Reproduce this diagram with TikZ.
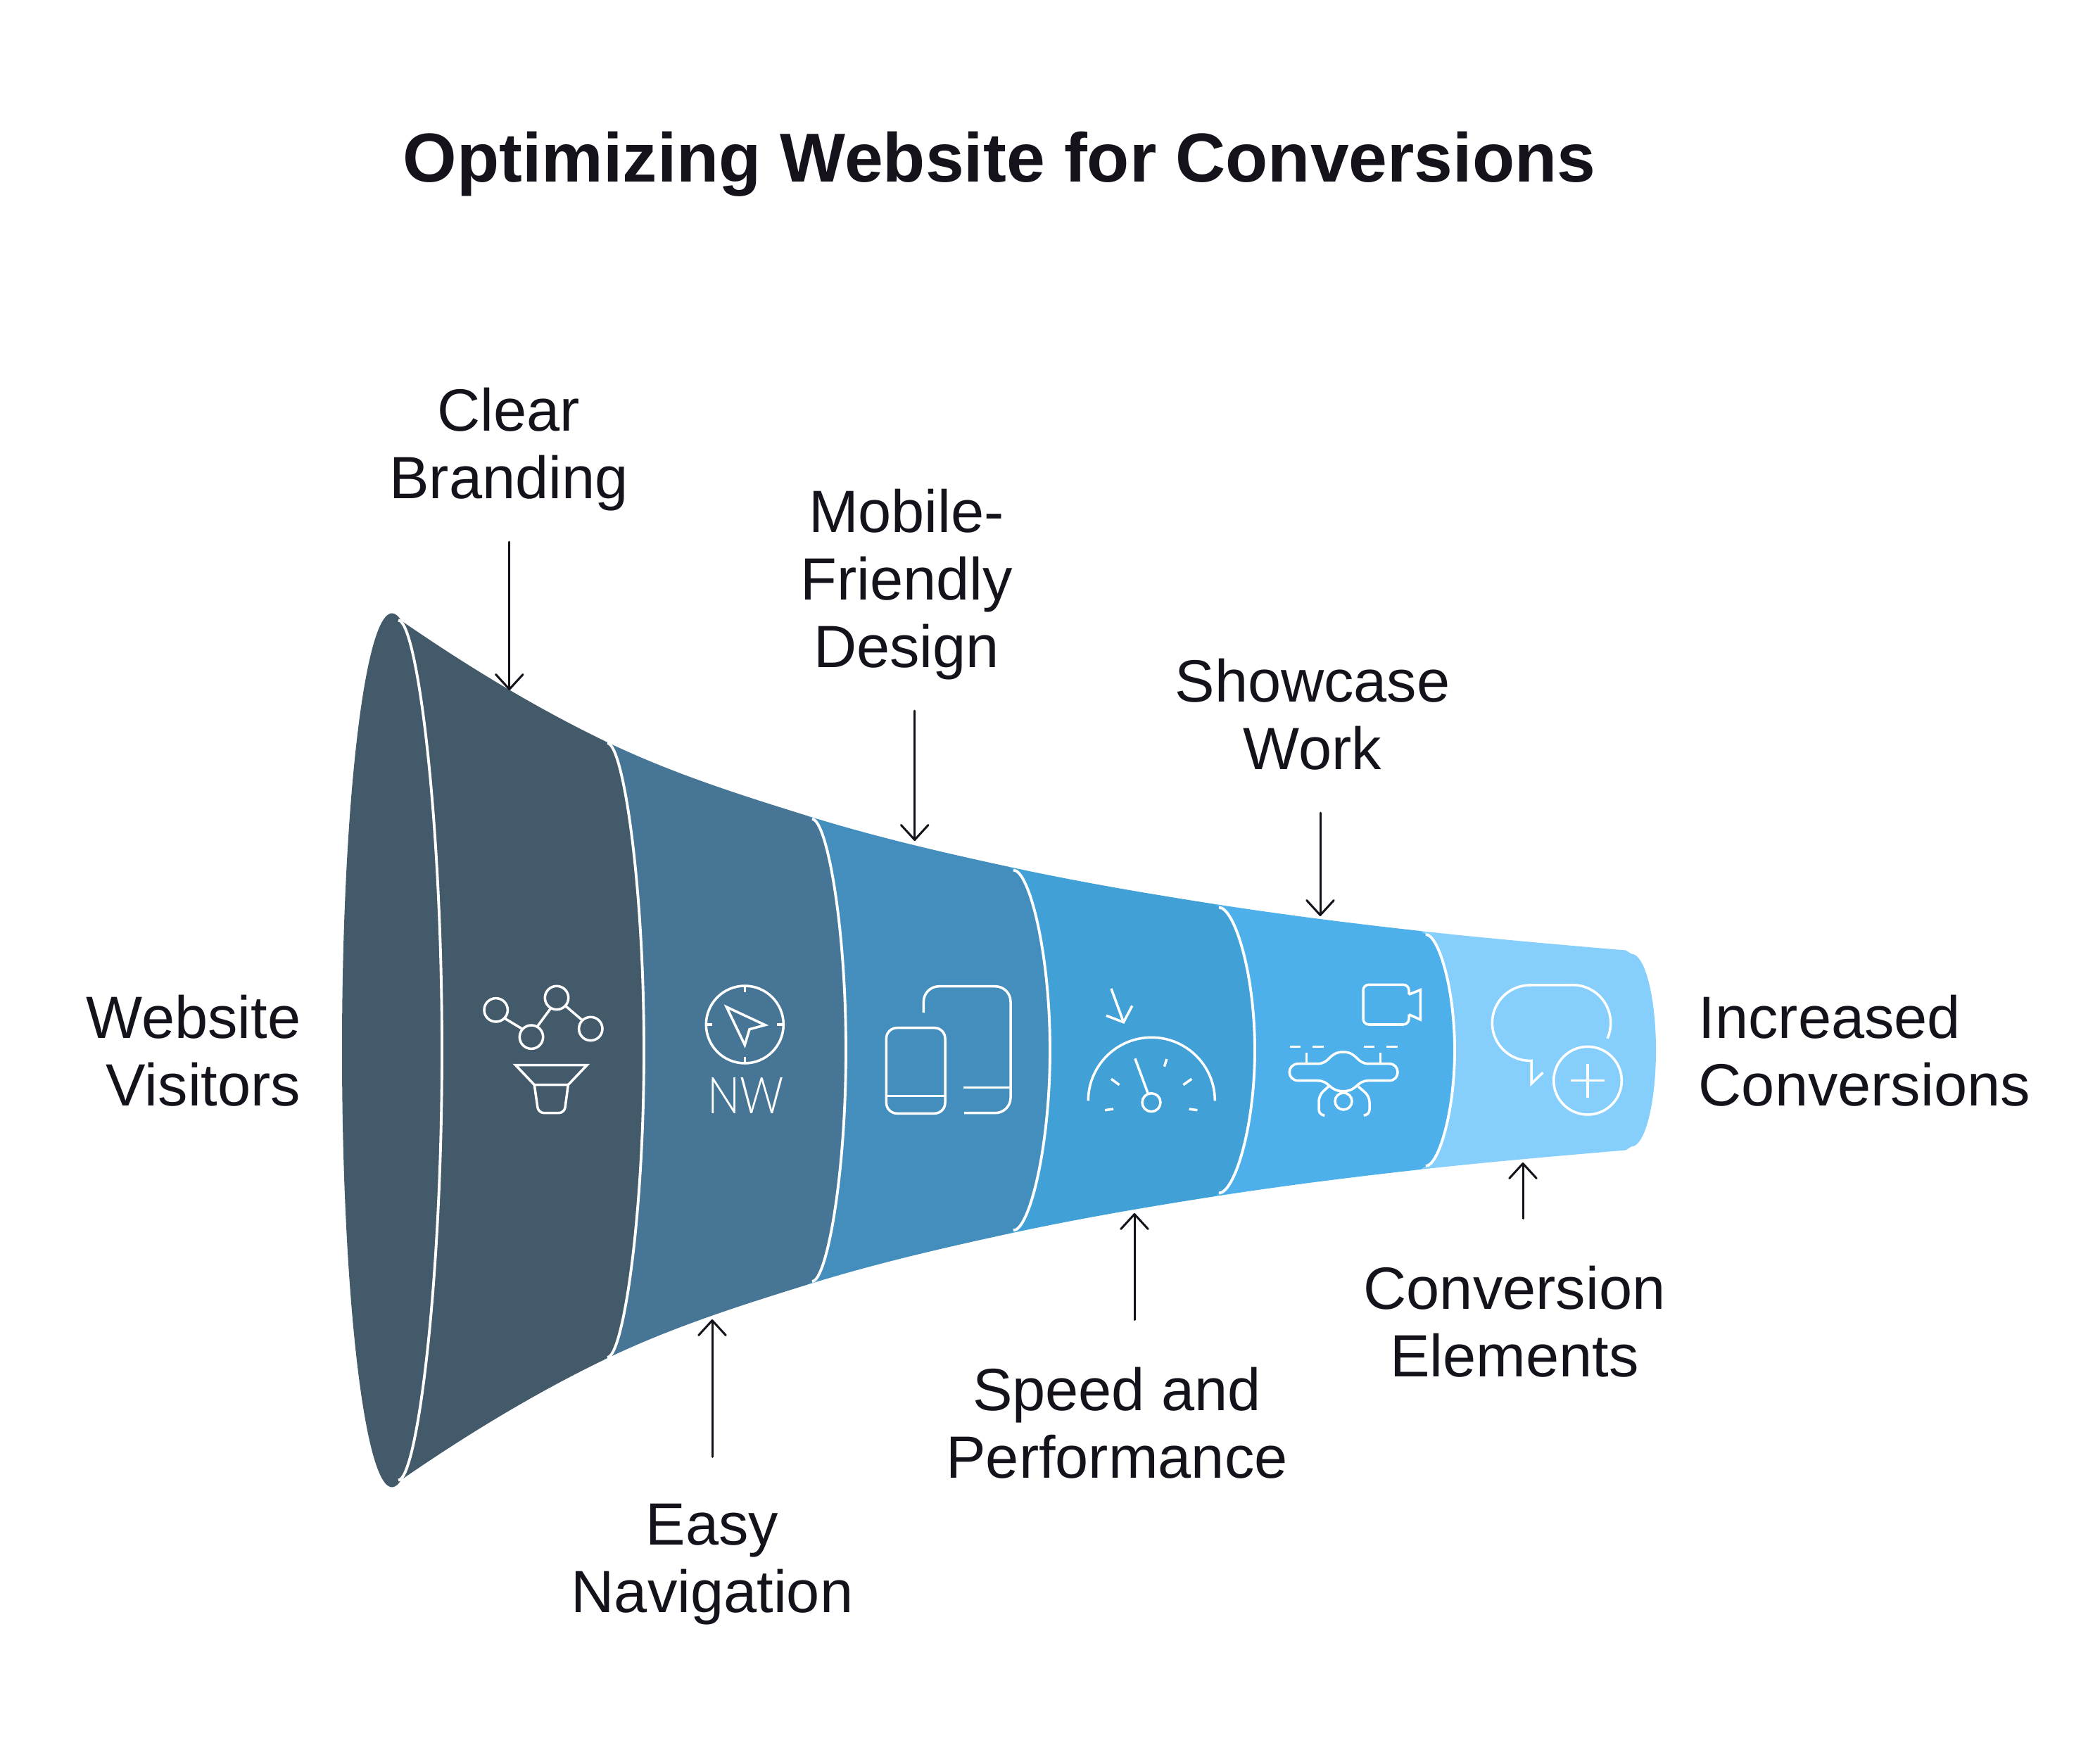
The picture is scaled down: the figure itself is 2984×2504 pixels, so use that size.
\documentclass[tikz,border=0pt]{standalone}
\usepackage{fontspec}
\setmainfont{Liberation Sans}
\newfontfamily\iconfont[FakeStretch=0.85]{Lato Light}
\usetikzlibrary{arrows.meta,calc}

\definecolor{inkdark}{HTML}{15121B}
\definecolor{stageA}{HTML}{425A6A}
\definecolor{stageB}{HTML}{467595}
\definecolor{stageC}{HTML}{438EBC}
\definecolor{stageD}{HTML}{41A0D6}
\definecolor{stageE}{HTML}{4DB0EA}
\definecolor{stageF}{HTML}{86CFFD}

\tikzset{
  caption/.style={inner sep=0pt, text=inkdark, font=\fontsize{24.1}{27.3}\selectfont,
    execute at begin node=\strut, execute at end node=\strut},
  pointer/.style={draw=inkdark, line width=0.85pt, line cap=round,
    -{Straight Barb[length=6pt,width=11pt,round]}, shorten <=#1},
  seamline/.style={draw=white, line width=1.1pt},
  icon/.style={draw=white, line width=1pt}
}

\begin{document}
\begin{tikzpicture}[x=0.01cm, y=-0.01cm]
    \useasboundingbox (0,0) rectangle (2984,2504);
    \def\yc{1492.5}

    \foreach \xa/\ha/\sa/\xb/\hb/\sb/\bx/\kk/\col in {
        2018/169.5/-0.111/2310/142/-0.085/2353/.55/stageF,
        1724/208/-0.156/2018/169.5/-0.111/2067/.42/stageE,
        1432/261/-0.217/1724/208/-0.156/1783/.42/stageD,
        1146/333.5/-0.312/1432/261/-0.217/1492/.42/stageC,
        855/441.5/-0.487/1146/333.5/-0.312/1202/.42/stageB,
        555/621/-0.70/855/441.5/-0.487/915/.42/stageA} {
      \pgfmathsetmacro\dx{(\xb-\xa)/3}
      \pgfmathsetmacro\kx{\kk*(\bx-\xb-8)}
      \pgfmathsetmacro\ky{.5523*(\hb-5)}
      \fill[\col] ({\xa},{\yc-\ha})
        .. controls ({\xa+\dx},{\yc-\ha-\sa*\dx}) and ({\xb-\dx},{\yc-\hb+\sb*\dx}) .. ({\xb},{\yc-\hb})
        -- ({\xb+8},{\yc-\hb+5})
        .. controls ({\xb+8+\kx},{\yc-\hb+5}) and ({\bx},{\yc-\ky}) .. ({\bx},{\yc})
        .. controls ({\bx},{\yc+\ky}) and ({\xb+8+\kx},{\yc+\hb-5}) .. ({\xb+8},{\yc+\hb-5})
        -- ({\xb},{\yc+\hb})
        .. controls ({\xb-\dx},{\yc+\hb-\sb*\dx}) and ({\xa+\dx},{\yc+\ha+\sa*\dx}) .. ({\xa},{\yc+\ha})
        -- cycle;
    }
    \fill[stageA] (557,\yc) ellipse [x radius=71, y radius=621];

    \foreach \xb/\hb/\bx in {558/616/628, 855/441.5/915, 1146/333.5/1202, 1432/261/1492, 1724/208/1783, 2018/169.5/2067} {
      \pgfmathsetmacro\kx{.42*(\bx-\xb-8)}
      \pgfmathsetmacro\ky{.5523*(\hb-5)}
      \draw[seamline] ({\xb+8},{\yc-\hb+5})
        .. controls ({\xb+8+\kx},{\yc-\hb+5}) and ({\bx},{\yc-\ky}) .. ({\bx},{\yc})
        .. controls ({\bx},{\yc+\ky}) and ({\xb+8+\kx},{\yc+\hb-5}) .. ({\xb+8},{\yc+\hb-5});
    }

    % branding
    \foreach \p in {(704.7,1435.3), (791,1418), (755,1473.7), (839.3,1462)} \draw[icon] \p circle (16.7);
    \draw[icon] (717.3,1447.3) -- (741.7,1462); \draw[icon] (763.3,1459) -- (782.7,1432.7); \draw[icon] (803.3,1429.3) -- (826.7,1449.3);
    \draw[icon, line join=miter] (732.7,1513.7) -- (834,1513.7) -- (807.3,1541.7) -- (759.3,1541.7) -- cycle;
    \draw[icon, rounded corners=2.3pt] (759.3,1541.7) -- (765,1581.7) -- (802,1581.7) -- (807.3,1541.7);

    % navigation
    \draw[icon] (1058.3,1456) circle (55);
    \foreach \a in {0,90,180,270} \draw[icon] (1058.3,1456) ++(\a:46) -- ++(\a:9);
    \draw[icon, line join=miter] (1032.3,1431) -- (1087.3,1456.7) -- (1065,1462.7) -- (1058.3,1485) -- cycle;
    \node[inner sep=0pt, text=white, anchor=base, font=\iconfont\fontsize{20.5}{24}\selectfont] (compassText) at (1060,1582) {NW};

    % devices
    \draw[icon, rounded corners=4.3pt] (1259.4,1460.7) rectangle (1343,1582.3);
    \draw[icon] (1259.4,1557.7) -- (1343,1557.7);
    \draw[icon, rounded corners=6.2pt] (1312.4,1439) -- (1312.4,1401.7) -- (1436,1401.7) -- (1436,1581.7) -- (1370,1581.7);
    \draw[icon] (1368.8,1545.7) -- (1436,1545.7);

    % gauge
    \draw[icon] (1579,1405) -- (1596.5,1452.7); \draw[icon] (1572,1443.3) -- (1596.5,1452.7) -- (1608.8,1429.3);
    \draw[icon] (1546.3,1564.3) arc [start angle=180, end angle=360, radius=90];
    \draw[icon] (1612.9,1504.3) -- (1631.2,1554); \draw[icon] (1636,1566.7) circle (13);
    \draw[icon] (1657.8,1505) -- (1654.5,1515.7); \draw[icon] (1693.3,1533.3) -- (1681.4,1541.7); \draw[icon] (1701.4,1577.7) -- (1689.6,1576);
    \draw[icon] (1579,1533.3) -- (1590.4,1541.7); \draw[icon] (1570,1577.7) -- (1582,1576);

    % camera and drone
    \draw[icon, rounded corners=2.3pt] (2002,1413.3) -- (2002,1399.3) -- (1937,1399.3) -- (1937,1456) -- (2002,1456) -- (2002,1441.7);
    \draw[icon, line join=miter] (2002,1441.7) -- (2018.3,1449) -- (2018.3,1406.7) -- (2002,1413.3);
    \foreach \xa/\xb in {1832.5/1848, 1865/1880.5, 1937.9/1953.4, 1969.6/1985.9} \draw[icon] (\xa,1487.7) -- (\xb,1487.7);
    \foreach \xa in {1856.3, 1961.4} \draw[icon] (\xa,1496) -- (\xa,1511.7);
    \draw[icon] (1845,1511.7) -- (1872,1511.7) .. controls (1890,1511.7) and (1888,1495) .. (1908.5,1495)
      .. controls (1929,1495) and (1927,1511.7) .. (1945,1511.7) -- (1974,1511.7)
      .. controls (1990,1511.7) and (1990,1535.7) .. (1974,1535.7) -- (1945,1535.7)
      .. controls (1927,1535.7) and (1929,1550.7) .. (1908.5,1550.7)
      .. controls (1888,1550.7) and (1890,1535.7) .. (1872,1535.7) -- (1845,1535.7)
      .. controls (1828,1535.7) and (1828,1511.7) .. (1845,1511.7) -- cycle;
    \draw[icon] (1909,1565) circle (12);
    \draw[icon, rounded corners=2.3pt] (1887.7,1544) -- (1874,1556.7) -- (1874,1585) -- (1880,1585);
    \draw[icon, rounded corners=2.3pt] (1930,1544) -- (1946,1558) -- (1946,1585) -- (1938,1585);

    % bubble
    \draw[icon, line join=miter] (2284,1475.7) arc [start angle=24, end angle=-90, radius=54] -- (2174,1400)
      arc [start angle=-90, end angle=-270, radius=53.7] -- (2176,1507.4) -- (2176,1540) -- (2192.3,1524.3);
    \draw[icon] (2256,1535.7) circle (48.3);
    \draw[icon] (2232.3,1535.7) -- (2280,1535.7); \draw[icon] (2256,1512.3) -- (2256,1560);

    \node[inner sep=0pt, text=inkdark, anchor=base, font=\bfseries\fontsize{28}{32}\selectfont] (heading) at (1420,259) {Optimizing Website for Conversions};

    \node[caption, align=right, anchor=east] (visitorsLabel) at (428,1507) {Website\\Visitors};
    \node[caption, align=left, anchor=west] (conversionsLabel) at (2413,1507) {Increased\\Conversions};
    \node[caption, align=center] (brandingLabel) at (723,644) {Clear\\Branding};
    \node[caption, align=center] (mobileLabel) at (1288,836) {Mobile-\\Friendly\\Design};
    \node[caption, align=center] (showcaseLabel) at (1865,1029) {Showcase\\Work};
    \node[caption, align=center] (navigationLabel) at (1012,2229) {Easy\\Navigation};
    \node[caption, align=center] (speedLabel) at (1587,2036) {Speed and\\Performance};
    \node[caption, align=center] (elementsLabel) at (2152,1892) {Conversion\\Elements};

    \coordinate (brandingTip) at (723.8,981); \coordinate (mobileTip) at (1299.7,1195); \coordinate (showcaseTip) at (1876,1302);
    \coordinate (navigationTip) at (1012,1875); \coordinate (speedTip) at (1612,1724); \coordinate (elementsTip) at (2164,1652);

    \foreach \n in {branding,mobile,showcase} \draw[pointer=9.2pt] (\n Label.south -| \n Tip) -- (\n Tip);
    \foreach \n in {navigation,speed,elements} \draw[pointer=18.9pt] (\n Label.north -| \n Tip) -- (\n Tip);
\end{tikzpicture}
\end{document}
